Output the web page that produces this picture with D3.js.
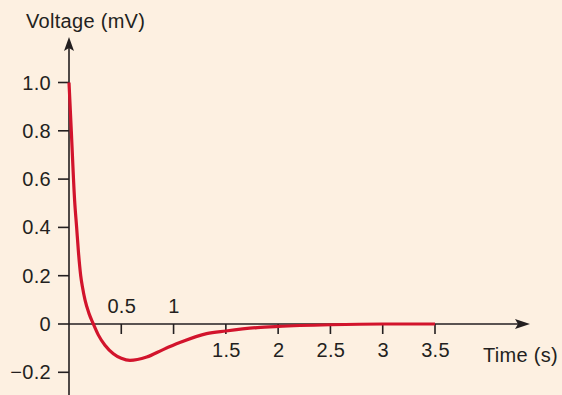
<!DOCTYPE html>
<html>
<head>
<meta charset="utf-8">
<script src="https://cdn.jsdelivr.net/npm/d3@7"></script>
<style>
  html, body { margin: 0; padding: 0; background: #fdf0e1; }
  svg { display: block; font-family: "Liberation Sans", Arial, sans-serif; }
</style>
</head>
<body>
<div id="chart"></div>
<script>

// time (s) and voltage (mV)
var times    = [0, 0.022, 0.054, 0.073, 0.09, 0.112, 0.13, 0.153, 0.19, 0.233, 0.28, 0.344, 0.424, 0.5, 0.583, 0.743, 0.9, 1.06, 1.316, 1.5, 1.8, 2.0, 2.5, 3.0, 3.5];
var voltages = [1.0, 0.8, 0.51, 0.4, 0.3, 0.2, 0.15, 0.1, 0.045, 0, -0.045, -0.088, -0.123, -0.142, -0.151, -0.137, -0.106, -0.077, -0.04, -0.029, -0.015, -0.01, -0.003, 0, 0];

var yTicks = [-0.2, 0, 0.2, 0.4, 0.6, 0.8, 1.0];
var yTickLabels = ["\u22120.2", "0", "0.2", "0.4", "0.6", "0.8", "1.0"];
var xTicks = [0.5, 1, 1.5, 2, 2.5, 3, 3.5];
var xTicksAbove = [0.5, 1];   // these two labels sit above the axis

var width = 562, height = 395;
var axisColor = "#231f20", lineColor = "#d2142c";
var fontSize = 20, tracking = 0.3;

var svg = d3.select("#chart").append("svg")
    .attr("width", width)
    .attr("height", height);

svg.append("rect").attr("width", width).attr("height", height).attr("fill", "#fdf0e1");

var x = d3.scaleLinear().domain([0, 3.5]).range([69, 435]);
var y = d3.scaleLinear().domain([-0.2, 1.0]).range([372.3, 82.5]);

// axes lines
svg.append("line")
    .attr("x1", x(0)).attr("x2", x(0))
    .attr("y1", 48).attr("y2", height)
    .attr("stroke", axisColor).attr("stroke-width", 1.6);

svg.append("line")
    .attr("x1", x(0)).attr("x2", 518)
    .attr("y1", y(0)).attr("y2", y(0))
    .attr("stroke", axisColor).attr("stroke-width", 1.6);

// arrow heads
svg.append("path")
    .attr("d", `M${x(0)},37 L${x(0) + 5},51 L${x(0)},48 L${x(0) - 5},51 Z`)
    .attr("fill", axisColor);
svg.append("path")
    .attr("d", `M530,${y(0)} L515,${y(0) - 5} L518,${y(0)} L515,${y(0) + 5} Z`)
    .attr("fill", axisColor);

// y ticks
var yt = svg.append("g").selectAll("g").data(yTicks).enter().append("g");
yt.append("line")
    .attr("x1", x(0) - 11).attr("x2", x(0))
    .attr("y1", d => y(d)).attr("y2", d => y(d))
    .attr("stroke", axisColor).attr("stroke-width", 1.6);
yt.append("text")
    .attr("x", 51).attr("y", d => y(d) + 7)
    .attr("text-anchor", "end")
    .attr("font-size", fontSize)
    .attr("letter-spacing", tracking)
    .attr("fill", axisColor)
    .text((d, i) => yTickLabels[i]);

// x ticks
var xt = svg.append("g").selectAll("g").data(xTicks).enter().append("g");
xt.append("line")
    .attr("x1", d => x(d)).attr("x2", d => x(d))
    .attr("y1", y(0)).attr("y2", y(0) + 10)
    .attr("stroke", axisColor).attr("stroke-width", 1.6);
xt.append("text")
    .attr("x", d => x(d) + 0.5)
    .attr("y", d => xTicksAbove.indexOf(d) >= 0 ? 313 : 357)
    .attr("text-anchor", "middle")
    .attr("font-size", fontSize)
    .attr("letter-spacing", tracking)
    .attr("fill", axisColor)
    .text(d => d);

// axis titles
svg.append("text")
    .attr("x", 26).attr("y", 28)
    .attr("font-size", fontSize)
    .attr("letter-spacing", tracking)
    .attr("fill", axisColor)
    .text("Voltage (mV)");

svg.append("text")
    .attr("x", 483).attr("y", 362)
    .attr("font-size", fontSize)
    .attr("letter-spacing", tracking)
    .attr("fill", axisColor)
    .text("Time (s)");

// the curve
var line = d3.line()
    .x((d, i) => x(times[i]))
    .y(d => y(d))
    .curve(d3.curveMonotoneX);

svg.append("path")
    .datum(voltages)
    .attr("d", line)
    .attr("fill", "none")
    .attr("stroke", lineColor)
    .attr("stroke-width", 3.2)
    .attr("stroke-linecap", "butt");

</script>
</body>
</html>
